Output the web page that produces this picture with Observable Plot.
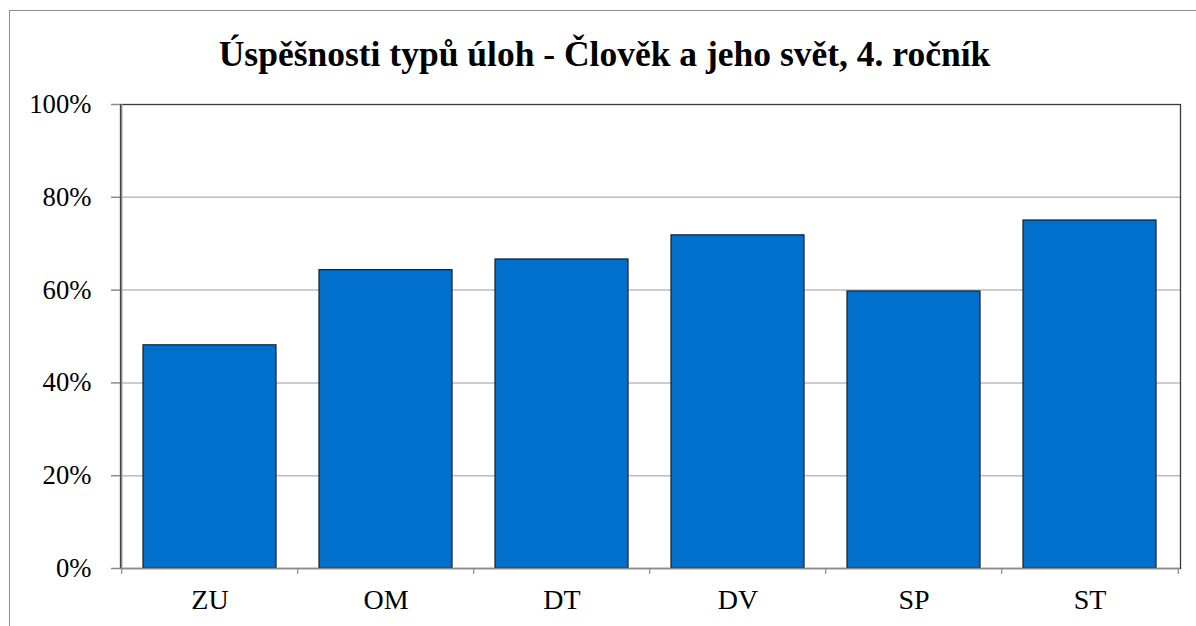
<!DOCTYPE html>
<html>
<head>
<meta charset="utf-8">
<script src="https://cdn.jsdelivr.net/npm/d3@7"></script>
<script src="https://cdn.jsdelivr.net/npm/@observablehq/plot@0.6"></script>
<style>
  html, body { margin: 0; padding: 0; background: #fff; }
  #wrap { position: relative; width: 1196px; height: 626px; overflow: hidden; }
  #border { position: absolute; left: 9px; top: 10px; width: 1400px; height: 1000px; border: 1px solid #8f8f8f; }
  #title { position: absolute; left: 0; top: 37px; width: 1209px; text-align: center;
           font: bold 35.5px "Liberation Serif", "Times New Roman", serif; line-height: 1; color: #000; white-space: nowrap; }
  #chart { position: absolute; left: 0; top: 0; }
</style>
</head>
<body>
<div id="wrap">
  <div id="border"></div>
  <div id="title"></div>
  <div id="chart"></div>
</div>
<script>
const titleText = "Úspěšnosti typů úloh - Člověk a jeho svět, 4. ročník";
const categories = ["ZU", "OM", "DT", "DV", "SP", "ST"];
const values = [48.1, 64.3, 66.6, 71.8, 59.7, 75.0];
const yTicks = [0, 20, 40, 60, 80, 100];
const gridTicks = [20, 40, 60, 80];

document.getElementById("title").textContent = titleText;

const data = categories.map((c, i) => ({cat: c, value: values[i]}));

const W = 1196, H = 626;
const mL = 120, mR = 16, mT = 104, mB = 58;
const step = (W - mL - mR) / categories.length;
const half = step / 2;
const font = "'Liberation Serif', 'Times New Roman', serif";

const chart = Plot.plot({
  width: W,
  height: H,
  marginLeft: mL,
  marginRight: mR,
  marginTop: mT,
  marginBottom: mB,
  style: {background: "transparent", fontFamily: font, color: "#000", overflow: "visible"},
  x: {domain: categories, paddingInner: 0.244, paddingOuter: 0.122, axis: null},
  y: {domain: [0, 100], axis: null},
  marks: [
    Plot.ruleY(gridTicks, {stroke: "#bcbcbc", strokeWidth: 1.5}),
    Plot.barY(data, {x: "cat", y: "value", fill: "#0070CC", stroke: "#1c1c1c", strokeWidth: 1.2}),
    Plot.frame({stroke: "#3a3a3a", strokeWidth: 1.3}),
    // left axis line (gray) and bottom axis line
    Plot.ruleX([categories[0]], {x: d => d, dx: -half, y1: 0, y2: 100, stroke: "#8a8a8a", strokeWidth: 1.5}),
    Plot.ruleY([0], {stroke: "#8a8a8a", strokeWidth: 1.5}),
    // y tick marks
    Plot.tickY(yTicks, {y: d => d, insetLeft: -9, insetRight: W - mL - mR, stroke: "#8a8a8a", strokeWidth: 1.5}),
    // x tick marks at category boundaries
    Plot.ruleX(categories, {x: d => d, dx: -half, y1: 0, y2: 0, insetBottom: -6, stroke: "#8a8a8a", strokeWidth: 1.2}),
    Plot.ruleX([categories[categories.length - 1]], {x: d => d, dx: half, y1: 0, y2: 0, insetBottom: -6, stroke: "#8a8a8a", strokeWidth: 1.2}),
    // y labels
    Plot.text(yTicks, {y: d => d, text: d => d + "%", frameAnchor: "left", textAnchor: "end", dx: -29, fontSize: 26.7, fill: "#000"}),
    // x labels
    Plot.text(categories, {x: d => d, text: d => d, frameAnchor: "bottom", dy: 40, fontSize: 28, fill: "#000"})
  ]
});
document.getElementById("chart").appendChild(chart);
</script>
</body>
</html>
